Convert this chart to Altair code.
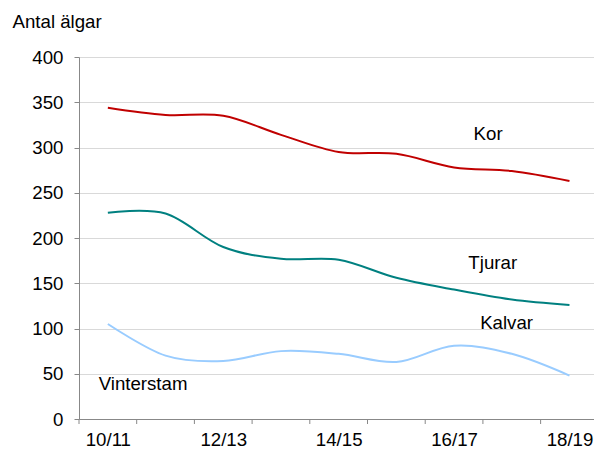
import json
import altair as alt
import pandas as pd

categories = ["10/11", "11/12", "12/13", "13/14", "14/15", "15/16", "16/17", "17/18", "18/19"]
kor = [344, 336, 335, 314, 295, 293, 278, 274, 263]
tjurar = [228, 227, 190, 177, 176, 156, 143, 132, 126]
kalvar = [105, 70, 64, 75, 72, 63, 81, 72, 48]

series_names = ["Kor", "Tjurar", "Kalvar"]
series_colors = ["#c00000", "#008080", "#99ccff"]

label_text = ["Kor", "Tjurar", "Kalvar", "Vinterstam"]
label_x = [6.59, 6.67, 6.91, 0.61]
label_y = [308, 166, 99, 31.5]

rows = []
for name, vals in zip(series_names, [kor, tjurar, kalvar]):
    for i, v in enumerate(vals):
        rows.append({"idx": i, "value": v, "serie": name})
df = pd.DataFrame(rows)
ann = pd.DataFrame({"label": label_text, "idx": label_x, "value": label_y})
# category boundaries (Excel-style ticks between categories)
bounds = pd.DataFrame({"idx": [i - 0.5 for i in range(len(categories))]})

FONT = "Liberation Sans, Arial"
FS = 18.67
AXIS_GRAY = "#888888"
W, H = 515, 362

label_values = [i for i in range(len(categories)) if i % 2 == 0]
label_expr = f"{json.dumps(categories)}[round(datum.value)]"

x_scale = alt.Scale(domain=[-0.5, 8.425], nice=False, zero=False)
y_scale = alt.Scale(domain=[0, 400], nice=False)

x_enc = alt.X(
    "idx:Q",
    scale=x_scale,
    axis=alt.Axis(
        values=label_values,
        labelExpr=label_expr,
        ticks=False,
        grid=False,
        domainColor=AXIS_GRAY,
        labelPadding=11,
        labelFont=FONT,
        labelFontSize=FS,
        labelColor="#000000",
        labelOverlap=False,
        title=None,
    ),
)

y_enc = alt.Y(
    "value:Q",
    scale=y_scale,
    axis=alt.Axis(
        values=list(range(0, 401, 50)),
        gridColor="#d9d9d9",
        gridWidth=1,
        domainColor=AXIS_GRAY,
        tickColor=AXIS_GRAY,
        tickSize=5,
        labelPadding=11,
        labelFont=FONT,
        labelFontSize=FS,
        labelColor="#000000",
        labelOverlap=False,
        title="Antal älgar",
        titleAngle=0,
        titleAlign="left",
        titleBaseline="alphabetic",
        titleX=-67,
        titleY=-30,
        titleFont=FONT,
        titleFontSize=FS,
        titleFontWeight="normal",
        titleColor="#000000",
    ),
)

lines = alt.Chart(df).mark_line(interpolate="cardinal", strokeWidth=2).encode(
    x=x_enc,
    y=y_enc,
    color=alt.Color(
        "serie:N",
        scale=alt.Scale(domain=series_names, range=series_colors),
        legend=None,
    ),
)

ticks = alt.Chart(bounds).mark_rule(color=AXIS_GRAY, strokeWidth=1).encode(
    x=alt.X("idx:Q", scale=x_scale),
    y=alt.value(H),
    y2=alt.value(H + 5),
)

texts = alt.Chart(ann).mark_text(
    align="center", baseline="alphabetic", font=FONT, fontSize=FS, color="#000000"
).encode(
    x=alt.X("idx:Q", scale=x_scale),
    y=alt.Y("value:Q", scale=y_scale),
    text="label:N",
)

chart = (
    alt.layer(lines, ticks, texts)
    .properties(
        width=W,
        height=H,
        autosize=alt.AutoSizeParams(type="none"),
        padding={"left": 71, "top": 49, "right": 0, "bottom": 30},
        background="#ffffff",
    )
    .configure_view(stroke=None)
)

chart.save("out.html", embed_options={"renderer": "svg", "actions": False})
